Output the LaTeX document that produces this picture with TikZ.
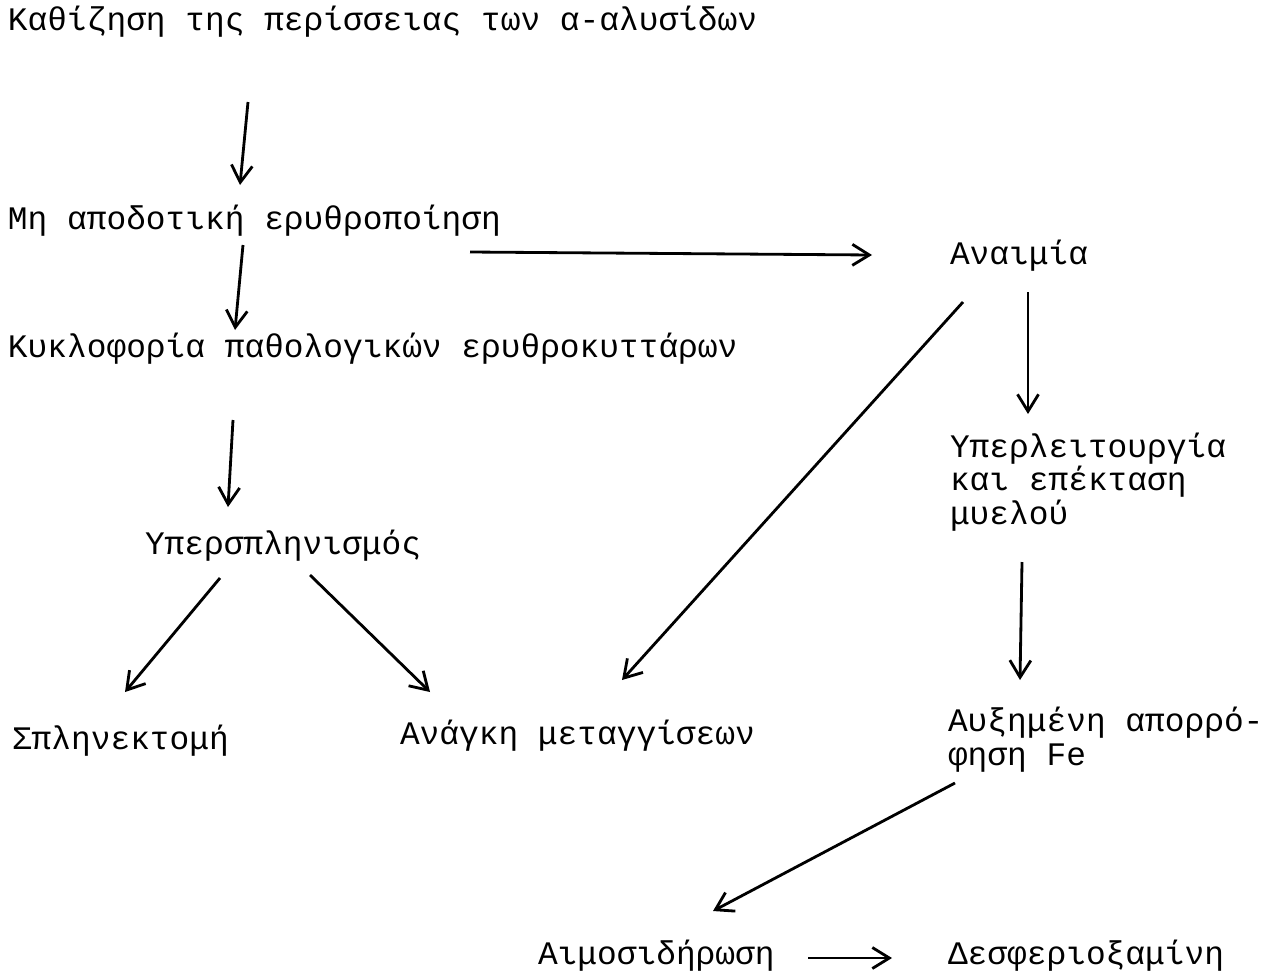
\documentclass[tikz,border=0pt]{standalone}
\usepackage{fontspec}
\setmainfont{Liberation Mono}
\usetikzlibrary{arrows.meta}
\tikzset{txt/.style={anchor=base west, inner sep=0pt, outer sep=0pt, font=\fontsize{18.7}{19}\selectfont, align=left},
%open barb tip like on the typed original
arr/.style={line width=1.6pt, -{Straight Barb[length=3.4mm, width=4.2mm, line width=1.6pt]}}}

\begin{document}
\begin{tikzpicture}[x=0.02cm, y=-0.02cm]

    \useasboundingbox (0,0) rectangle (1283,970);

    % texts (base of multi-line nodes is their last line)
    \node[txt] (kath) at (8,31) {Καθίζηση της περίσσειας των α-αλυσίδων};
    \node[txt] (mh) at (8,229) {Μη αποδοτική ερυθροποίηση};
    \node[txt] (kykl) at (8,357) {Κυκλοφορία παθολογικών ερυθροκυττάρων};
    \node[txt] (anaim) at (950,264) {Αναιμία};
    \node[txt] (hyper) at (145,554) {Υπερσπληνισμός};
    \node[txt] (myel) at (950,524) {Υπερλειτουργία\\και επέκταση\\μυελού};
    \node[txt] (splen) at (12,749) {Σπληνεκτομή};
    \node[txt] (metag) at (400,744) {Ανάγκη μεταγγίσεων};
    \node[txt] (fe) at (948,765) {Αυξημένη απορρό-\\φηση Fe};
    \node[txt] (aimo) at (538,964) {Αιμοσιδήρωση};
    \node[txt] (desf) at (948,964) {Δεσφεριοξαμίνη};

    % arrow ends
    \coordinate (a0) at (248,102);
    \coordinate (b0) at (240,185);
    \coordinate (a1) at (243,245);
    \coordinate (b1) at (235,330);
    \coordinate (a2) at (233,420);
    \coordinate (b2) at (228,507);
    \coordinate (a3) at (470,252);
    \coordinate (b3) at (872,255);
    \coordinate (a4) at (1028,292);
    \coordinate (b4) at (1028,414);
    \coordinate (a5) at (963,302);
    \coordinate (b5) at (622,680);
    \coordinate (a6) at (220,578);
    \coordinate (b6) at (125,692);
    \coordinate (a7) at (310,575);
    \coordinate (b7) at (430,692);
    \coordinate (a8) at (1022,562);
    \coordinate (b8) at (1020,680);
    \coordinate (a9) at (955,783);
    \coordinate (b9) at (713,911);
    \coordinate (a10) at (808,958);
    \coordinate (b10) at (892,958);

    \foreach \i in {0,1,2,3,4,5,6,7,8,9,10}
    \draw[arr] (a\i) -- (b\i);

\end{tikzpicture}
\end{document}
